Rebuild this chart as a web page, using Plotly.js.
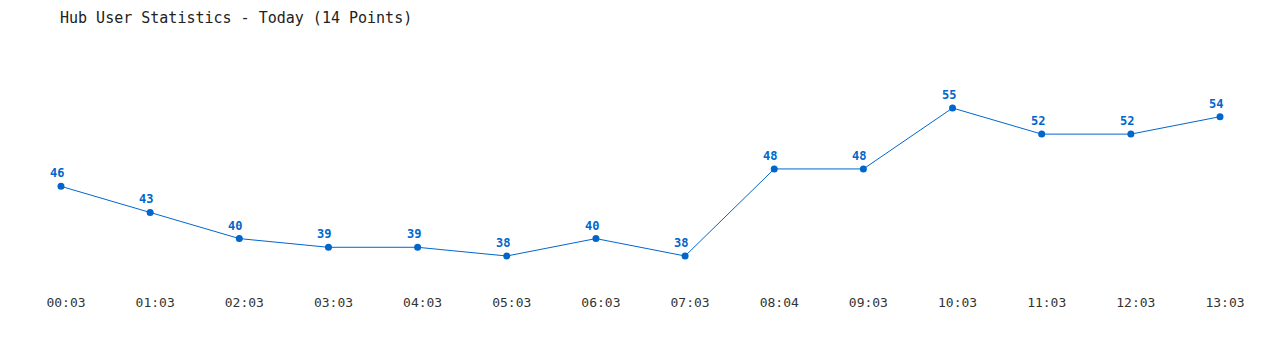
<!DOCTYPE html>
<html>
<head>
<meta charset="utf-8">
<script src="https://cdn.plot.ly/plotly-3.0.1.min.js"></script>
<style>html,body{margin:0;padding:0;background:#fff;}#chart{width:1280px;height:350px;}</style>
</head>
<body>
<div id="chart"></div>
<script>
const times = ["00:03","01:03","02:03","03:03","04:03","05:03","06:03","07:03","08:04","09:03","10:03","11:03","12:03","13:03"];
const users = [46,43,40,39,39,38,40,38,48,48,55,52,52,54];
const titleText = "Hub User Statistics - Today (14 Points)";

const idx = times.map((_, i) => i);
const trace = {
  x: idx,
  y: users,
  type: "scatter",
  mode: "lines+markers",
  line: {color: "#0066cc", width: 1},
  marker: {color: "#0066cc", size: 7},
  cliponaxis: false,
  hoverinfo: "none"
};
const labels = users.map((v, i) => ({
  x: idx[i], y: v, text: String(v), showarrow: false,
  xanchor: "center", yanchor: "bottom", xshift: -4, yshift: 4,
  font: {family: "DejaVu Sans Mono", size: 12, color: "#0066cc", weight: "bold"}
}));
const layout = {
  width: 1280, height: 350,
  paper_bgcolor: "#fff", plot_bgcolor: "#fff",
  margin: {l: 61, r: 60, t: 50, b: 50},
  showlegend: false,
  annotations: labels,
  title: {text: titleText, x: 60/1280, xanchor: "left", y: 1 - 18/350, yanchor: "middle",
          font: {family: "DejaVu Sans Mono", size: 15, color: "#222"}},
  xaxis: {range: [0, 13], tickmode: "array", tickvals: idx, ticktext: times,
          showgrid: false, zeroline: false, showline: false, ticks: "",
          ticklabelshift: 5, ticklabelstandoff: -7,
          tickfont: {family: "DejaVu Sans Mono", size: 13, color: "#333"}, fixedrange: true},
  yaxis: {range: [32.946, 61.662], showgrid: false, zeroline: false, showline: false,
          showticklabels: false, ticks: "", fixedrange: true}
};
Plotly.newPlot("chart", [trace], layout, {staticPlot: true, displayModeBar: false});
</script>
</body>
</html>
